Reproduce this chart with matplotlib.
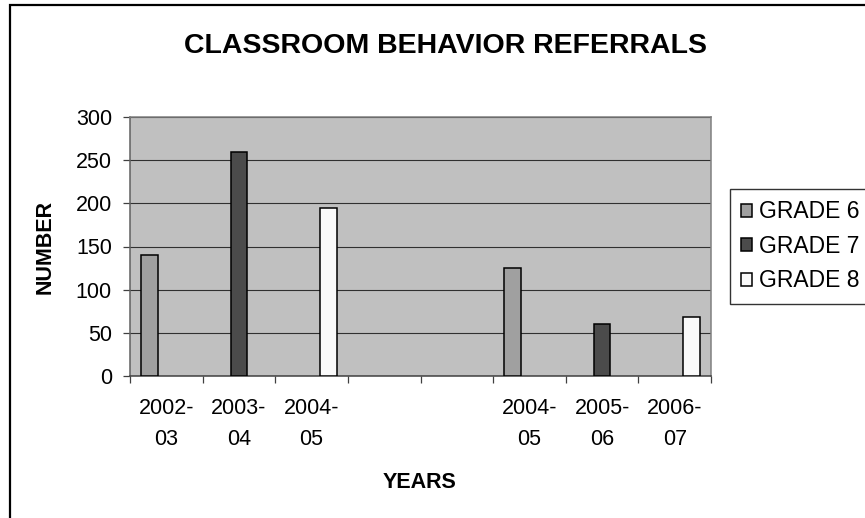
import numpy as np
import matplotlib
matplotlib.use("Agg")
import matplotlib.pyplot as plt
from matplotlib.patches import Rectangle

plt.rcParams['font.family'] = ['Liberation Sans', 'DejaVu Sans']

# Data
years = ["2002-03", "2003-04", "2004-05", "", "", "2004-05", "2005-06", "2006-07"]
series_names = ["GRADE 6", "GRADE 7", "GRADE 8"]
grade6 = [140, np.nan, np.nan, np.nan, np.nan, 125, np.nan, np.nan]
grade7 = [np.nan, 260, np.nan, np.nan, np.nan, np.nan, 60, np.nan]
grade8 = [np.nan, np.nan, 195, np.nan, np.nan, np.nan, np.nan, 68]
y_ticks = [0, 50, 100, 150, 200, 250, 300]

colors = ["#A0A0A0", "#4B4B4B", "#FAFAFA"]

W, H = 865, 518
fig = plt.figure(figsize=(W / 100, H / 100), dpi=100)
fig.patch.set_facecolor("white")

ax = fig.add_axes([130 / W, 1 - 376 / H, (711 - 130) / W, (376 - 117) / H])
ax.set_facecolor("#C0C0C0")

n = len(years)
centers = np.arange(n) + 0.5
bw = 0.232
handles = []
for i, (vals, c, name) in enumerate(zip([grade6, grade7, grade8], colors, series_names)):
    b = ax.bar(centers + (i - 1) * bw, vals, width=bw, color=c,
               edgecolor="black", linewidth=1.1, label=name, zorder=3)
    handles.append(b)

ax.set_xlim(0, n)
ax.set_ylim(0, 300)
ax.set_yticks(y_ticks)
ax.yaxis.grid(True, color="#303030", linewidth=0.8, zorder=1)
ax.set_axisbelow(True)

# category boundaries get the tick marks, centers get the labels
ax.set_xticks(np.arange(n + 1))
ax.set_xticklabels([])
ax.set_xticks(centers, minor=True)
ax.set_xticklabels([y.replace("-", "-\n") for y in years], minor=True,
                   fontsize=15.5, linespacing=1.6)
ax.tick_params(axis="x", which="major", direction="out", length=5, width=0.9, color="#404040")
ax.tick_params(axis="x", which="minor", length=0, pad=16)
ax.tick_params(axis="y", direction="out", length=5, width=0.9, color="#404040",
               labelsize=15.5, pad=8)

for s in ax.spines.values():
    s.set_color("#808080")
    s.set_linewidth(1.1)
ax.spines["left"].set_color("#606060")
ax.spines["bottom"].set_color("#404040")

fig.text(446 / W, 1 - 46 / H, "CLASSROOM BEHAVIOR REFERRALS", fontsize=20.5,
         fontweight="bold", ha="center", va="center")
fig.text(420 / W, 1 - 482 / H, "YEARS", fontsize=15.5, fontweight="bold",
         ha="center", va="center")
fig.text(45 / W, 1 - 247 / H, "NUMBER", fontsize=15.5, fontweight="bold",
         ha="center", va="center", rotation=90)

leg = fig.legend(handles=handles, labels=series_names, loc="upper left",
                 bbox_to_anchor=(730 / W, 1 - 189 / H), bbox_transform=fig.transFigure,
                 fontsize=16.5, frameon=True, fancybox=False, edgecolor="black",
                 handlelength=0.48, handleheight=0.48, handletextpad=0.3,
                 labelspacing=0.5, borderpad=0.5, borderaxespad=0)
leg.get_frame().set_linewidth(1.0)

# chart-area border
fig.patches.append(Rectangle((10 / W, -0.5), 2.0, (1 - 5 / H) + 0.5,
                             transform=fig.transFigure, fill=False,
                             edgecolor="black", linewidth=1.6))

fig.savefig("out.png", dpi=100)
